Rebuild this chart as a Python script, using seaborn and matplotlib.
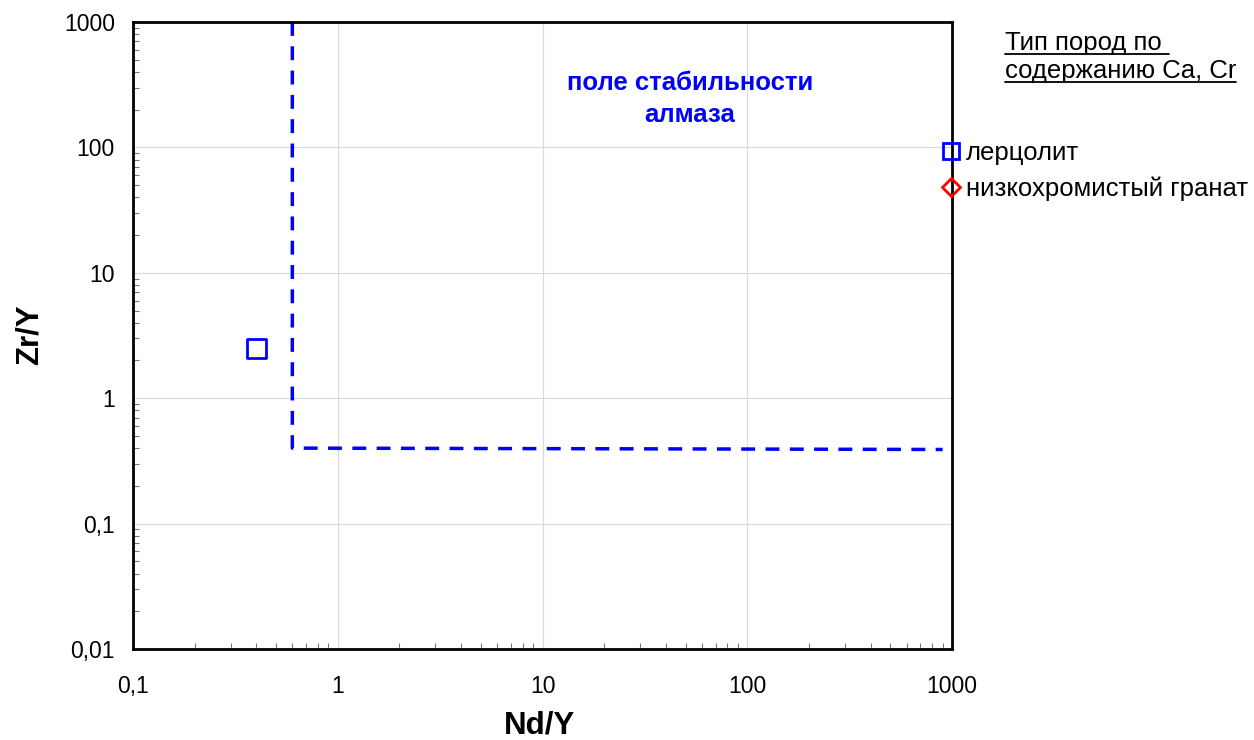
import matplotlib
matplotlib.use("Agg")
import matplotlib.pyplot as plt
import seaborn as sns
import pandas as pd
from matplotlib.lines import Line2D
from matplotlib.ticker import FixedLocator, LogLocator, NullFormatter

# Data
rock_types = ["лерцолит", "низкохромистый гранат"]
nd_y = [0.4]
zr_y = [2.5]
point_type = ["лерцолит"]

# diamond stability field boundary
boundary_x = [0.6, 0.6, 900]
boundary_y = [1000, 0.4, 0.39]

x_ticks = [0.1, 1, 10, 100, 1000]
x_tick_labels = ["0,1", "1", "10", "100", "1000"]
y_ticks = [0.01, 0.1, 1, 10, 100, 1000]
y_tick_labels = ["0,01", "0,1", "1", "10", "100", "1000"]

sns.set_theme(style="white")
plt.rcParams['font.family'] = ['Liberation Sans', 'DejaVu Sans']
plt.rcParams['text.color'] = 'black'
plt.rcParams['axes.labelcolor'] = 'black'
plt.rcParams['xtick.color'] = 'black'
plt.rcParams['ytick.color'] = 'black'

fig = plt.figure(figsize=(12.54, 7.4), dpi=100)
ax = fig.add_axes([133/1254, 1-649/740, (952-133)/1254, (649-22)/740])

df = pd.DataFrame({"Nd/Y": nd_y, "Zr/Y": zr_y, "type": point_type})
sns.scatterplot(data=df, x="Nd/Y", y="Zr/Y", ax=ax, marker="s", s=190,
                facecolor="none", edgecolor="#0000FF", linewidth=2, legend=False)
sns.lineplot(x=boundary_x, y=boundary_y, ax=ax, sort=False, estimator=None,
             color="#0000FF", linewidth=2.5, linestyle=(0, (4, 3)))

ax.set_xscale("log")
ax.set_yscale("log")
ax.set_xlim(0.1, 1000)
ax.set_ylim(0.01, 1000)
ax.xaxis.set_major_locator(FixedLocator(x_ticks))
ax.yaxis.set_major_locator(FixedLocator(y_ticks))
ax.set_xticklabels(x_tick_labels)
ax.set_yticklabels(y_tick_labels)
ax.xaxis.set_minor_locator(LogLocator(base=10, subs=range(2, 10)))
ax.yaxis.set_minor_locator(LogLocator(base=10, subs=range(2, 10)))
ax.xaxis.set_minor_formatter(NullFormatter())
ax.yaxis.set_minor_formatter(NullFormatter())
ax.tick_params(axis="x", which="major", direction="in", length=0, labelsize=16.5,
               pad=19, labelcolor="black")
ax.tick_params(axis="y", which="major", direction="in", length=0, labelsize=16.5,
               pad=13, labelcolor="black")
ax.tick_params(axis="both", which="minor", direction="in", length=4, width=0.8,
               color="#777777", bottom=True, left=True)
ax.grid(True, which="major", color="#d9d9d9", linewidth=0.8)
for s in ax.spines.values():
    s.set_color("black")
    s.set_linewidth(2)

ax.set_xlabel("Nd/Y", fontsize=22.5, fontweight="bold", color="black")
ax.set_ylabel("Zr/Y", fontsize=22.5, fontweight="bold", color="black")
ax.xaxis.set_label_coords((540-133)/819, (649-725)/627)
ax.yaxis.set_label_coords((30-133)/819, (649-335)/627)
ax.xaxis.label.set_va("center")
ax.yaxis.label.set_va("center")

ax.text((690-133)/819, (649-99)/627, "поле стабильности\nалмаза", transform=ax.transAxes,
        ha="center", va="center", fontsize=18.5, fontweight="bold",
        color="#0000FF", linespacing=1.45)

handles = [
    Line2D([], [], linestyle="none", marker="s", markersize=12,
           markerfacecolor="none", markeredgecolor="#0000FF", markeredgewidth=2),
    Line2D([], [], linestyle="none", marker="D", markersize=9.5,
           markerfacecolor="none", markeredgecolor="#FF0000", markeredgewidth=2),
]
leg = fig.legend(handles, rock_types, loc="upper left",
                 bbox_to_anchor=(943/1254, 1-141/740), frameon=False,
                 fontsize=18.5, handlelength=0.6, handletextpad=0.3,
                 labelspacing=0.45, borderaxespad=0, borderpad=0)
for t in leg.get_texts():
    t.set_color("black")

# underlined legend title
fig.canvas.draw()
renderer = fig.canvas.get_renderer()
inv = fig.transFigure.inverted()
for txt, yc in [("Тип пород по ", 43), ("содержанию Ca, Cr", 71)]:
    t = fig.text(1005/1254, 1-yc/740, txt, ha="left", va="center", fontsize=18.5,
                 color="black")
    bb = t.get_window_extent(renderer=renderer)
    (x0, y0), (x1, y1) = inv.transform([[bb.x0, bb.y0], [bb.x1, bb.y1]])
    fig.add_artist(Line2D([x0, x1], [y0 + 0.002, y0 + 0.002], color="black",
                          linewidth=1.3, transform=fig.transFigure))

fig.savefig("out.png", dpi=100)
